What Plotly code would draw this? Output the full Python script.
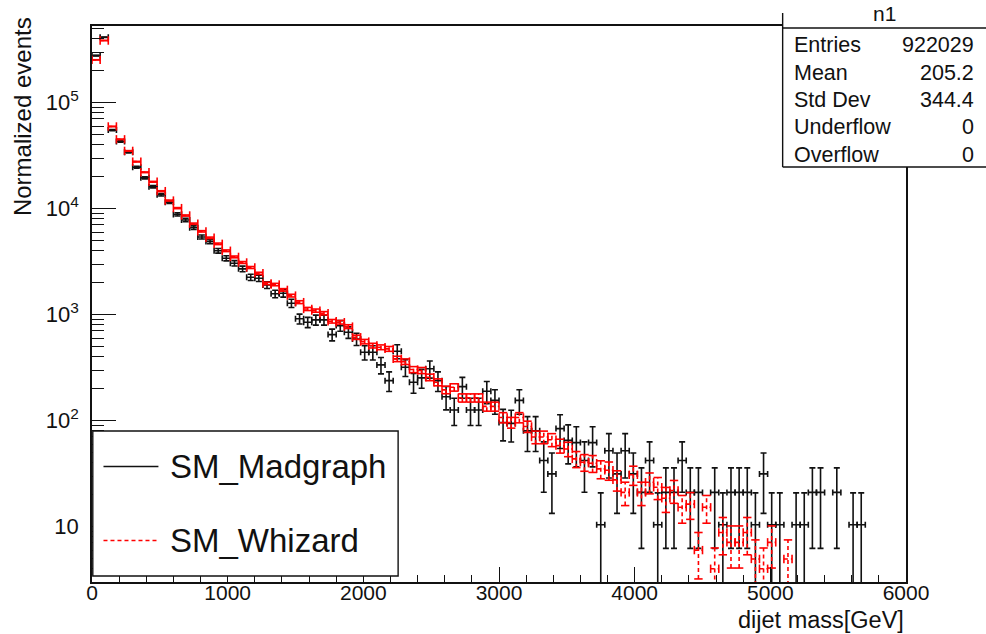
import math
import plotly.graph_objects as go

# ---------------- data ----------------
n_bins = 100
x_min, x_max = 0.0, 6000.0

madgraph = [
    277000, 413000, 55000, 43000, 34000, 24500, 19500, 16100, 13500, 11500,
    8800, 7800, 6600, 5400, 4900, 4000, 3400, 3050, 2700, 2250,
    2200, 1900, 1570, 1590, 1280, 912, 847, 892, 892, 647,
    787, 681, 589, 441, 441, 335, 238, 451, 318, 230,
    253, 308, 238, 168, 126, 209, 126, 126, 189, 155,
    96, 94, 155, 80, 80, 42, 31.4, 84, 65, 62,
    42, 62, 10.4, 52, 31.4, 52, 31.4, 21, 42, 10.4,
    21, 21, 42, 21, 21, 0, 21, 10.4, 21, 21,
    21, 10.4, 31.4, 10.4, 10.4, 0, 10.4, 10.4, 21, 21,
    0, 21, 0, 10.4, 10.4, 0, 0, 0, 0, 0,
]

whizard = [
    253000, 385000, 59500, 45000, 35000, 27700, 22000, 17900, 14600, 11900,
    10100, 8600, 7200, 6100, 5300, 4650, 4000, 3500, 3100, 2780,
    2450, 1970, 1920, 1710, 1510, 1310, 1130, 1090, 1030, 865,
    847, 770, 611, 556, 510, 492, 475, 382, 360, 303,
    297, 256, 230, 195, 206, 164, 164, 164, 136, 136,
    107, 96, 107, 88, 70, 70, 66, 58, 54, 43.5,
    40.5, 39.6, 35, 34, 27.6, 21, 30.8, 21, 26.2, 23.5,
    18.5, 21.9, 15.2, 16.3, 6.0, 15.2, 4.0, 8.8, 7.1, 7.1,
    8.8, 4.95, 4.0, 7.1, 0, 4.95, 0, 0, 0, 0,
    0, 0, 0, 0, 0, 0, 0, 0, 0, 0,
]

madgraph_weight = 10.4   # event weight (error = sqrt(N) * w)
whizard_weight = 1.3

stats_labels = ["Entries", "Mean", "Std Dev", "Underflow", "Overflow"]
stats_values = ["922029", "205.2", "344.4", "0", "0"]
hist_name = "n1"
legend_labels = ["SM_Madgraph", "SM_Whizard"]
x_ticks = [0, 1000, 2000, 3000, 4000, 5000, 6000]
y_ticks = [10, 100, 1000, 10000, 100000]
y_tick_text = ["10", "10<sup>2</sup>", "10<sup>3</sup>", "10<sup>4</sup>", "10<sup>5</sup>"]

# ---------------- derived ----------------
bw = (x_max - x_min) / n_bins
centers = [x_min + bw * (i + 0.5) for i in range(n_bins)]

FONT = "Liberation Sans, Arial, Helvetica, sans-serif"
BLACK = "#111111"
RED = "#ff0000"
LW = 1.6

fig = go.Figure()

# Madgraph: native error bars
mx, my, me_p, me_m = [], [], [], []
for c, v in zip(centers, madgraph):
    if v > 0:
        e = math.sqrt(v * madgraph_weight)
        mx.append(c)
        my.append(v)
        me_p.append(e)
        me_m.append(min(e, v * 0.99999))
fig.add_trace(go.Scatter(
    x=mx, y=my, mode="markers",
    marker=dict(size=1, color="rgba(0,0,0,0)"),
    error_y=dict(type="data", array=me_p, arrayminus=me_m, symmetric=False,
                 color=BLACK, thickness=LW, width=3),
    error_x=dict(type="constant", value=bw / 2, color=BLACK, thickness=LW, width=3),
    showlegend=False, hoverinfo="skip", cliponaxis=True,
))

# Whizard: dashed error bars drawn as line paths
vx, vy, hx, hy = [], [], [], []
cvx, cvy, chx, chy = [], [], [], []
for c, v in zip(centers, whizard):
    if v > 0:
        e = math.sqrt(v * whizard_weight)
        lo = v - e if v - e > 0 else 1e-3
        vx += [c, c, None]
        vy += [lo, v + e, None]
        hx += [c - bw / 2, c + bw / 2, None]
        hy += [v, v, None]
        cvx += [c]
        cvy += [v + e]
        if v - e > 0:
            cvx += [c]
            cvy += [v - e]
        chx += [c - bw / 2, c + bw / 2]
        chy += [v, v]

dash = "4px,3px"
fig.add_trace(go.Scatter(x=vx, y=vy, mode="lines",
                         line=dict(color=RED, width=LW, dash=dash),
                         showlegend=False, hoverinfo="skip"))
fig.add_trace(go.Scatter(x=hx, y=hy, mode="lines",
                         line=dict(color=RED, width=LW, dash=dash),
                         showlegend=False, hoverinfo="skip"))
fig.add_trace(go.Scatter(x=cvx, y=cvy, mode="markers",
                         marker=dict(symbol="line-ew", size=6,
                                     line=dict(color=RED, width=LW)),
                         showlegend=False, hoverinfo="skip"))
fig.add_trace(go.Scatter(x=chx, y=chy, mode="markers",
                         marker=dict(symbol="line-ns", size=6,
                                     line=dict(color=RED, width=LW)),
                         showlegend=False, hoverinfo="skip"))

# ---------------- layout geometry (pixels) ----------------
W, H = 986, 634
L, R, T, B = 91.5, 906.5, 26.0, 582.0
pw, ph = R - L, B - T


def px(xp):
    return (xp - L) / pw


def py(yp):
    return (B - yp) / ph


y_lo = math.log10(3.0)
y_hi = y_lo + ph / 106.0

minor_y = []
for k in range(0, 6):
    for m in range(2, 10):
        minor_y.append(m * 10 ** k)

fig.update_layout(
    width=W, height=H,
    margin=dict(l=L, r=W - R, t=T, b=H - B, pad=0),
    plot_bgcolor="white", paper_bgcolor="white",
    font=dict(family=FONT, color=BLACK),
    showlegend=False,
    xaxis=dict(
        range=[x_min, x_max], showgrid=False, zeroline=False,
        showline=True, linecolor=BLACK, linewidth=1.6, mirror=True,
        ticks="inside", ticklen=15, tickwidth=1.2, tickcolor=BLACK,
        tickmode="array", tickvals=x_ticks,
        ticktext=[str(t) for t in x_ticks],
        ticklabelstandoff=-9,
        tickfont=dict(size=21, family=FONT, color=BLACK),
        minor=dict(ticks="inside", ticklen=7, tickwidth=1.2, tickcolor=BLACK,
                   dtick=200, showgrid=False),
    ),
    yaxis=dict(
        type="log", range=[y_lo, y_hi], showgrid=False, zeroline=False,
        showline=True, linecolor=BLACK, linewidth=1.6, mirror=True,
        ticks="inside", ticklen=24, tickwidth=1.2, tickcolor=BLACK,
        tickmode="array", tickvals=y_ticks, ticktext=y_tick_text,
        ticklabelstandoff=7,
        tickfont=dict(size=22, family=FONT, color=BLACK),
        minor=dict(ticks="inside", ticklen=12, tickwidth=1.2, tickcolor=BLACK,
                   tickmode="array", tickvals=minor_y, showgrid=False),
    ),
)

shapes = []
annotations = []

# axis titles
annotations.append(dict(text="dijet mass[GeV]", xref="paper", yref="paper",
                        x=1.0, y=py(620), xanchor="right", yanchor="middle",
                        showarrow=False, font=dict(size=23.5, family=FONT, color=BLACK)))
annotations.append(dict(text="Normalized events", xref="paper", yref="paper",
                        x=px(22), y=py(15), xanchor="center", yanchor="top",
                        textangle=-90, showarrow=False,
                        font=dict(size=24, family=FONT, color=BLACK)))

# stats box
sx0, sx1, sy0, sy1, sline = 783, 990, 13, 167, 28
shapes.append(dict(type="rect", xref="paper", yref="paper",
                   x0=px(sx0), x1=px(sx1), y0=py(sy1), y1=py(sy0),
                   fillcolor="white", line=dict(width=0), layer="above"))
for (x0, y0, x1, y1) in [(sx0, sy0, sx0, sy1), (sx0, sline, sx1, sline), (sx0, sy1, sx1, sy1)]:
    shapes.append(dict(type="line", xref="paper", yref="paper",
                       x0=px(x0), x1=px(x1), y0=py(y0), y1=py(y1),
                       line=dict(color=BLACK, width=1.4), layer="above"))
annotations.append(dict(text=hist_name, xref="paper", yref="paper",
                        x=px(885), y=py(14), xanchor="center", yanchor="middle",
                        showarrow=False, font=dict(size=21, family=FONT, color=BLACK)))
row_y = [45, 72.5, 100, 127.5, 155]
for lab, val, yy in zip(stats_labels, stats_values, row_y):
    annotations.append(dict(text=lab, xref="paper", yref="paper",
                            x=px(792), y=py(yy), xanchor="left", yanchor="middle",
                            showarrow=False, font=dict(size=21.5, family=FONT, color=BLACK)))
    annotations.append(dict(text=val, xref="paper", yref="paper",
                            x=px(977), y=py(yy), xanchor="right", yanchor="middle",
                            showarrow=False, font=dict(size=21.5, family=FONT, color=BLACK)))

# legend box
lx0, lx1, ly0, ly1 = 92.3, 398, 431, 576
shapes.append(dict(type="rect", xref="paper", yref="paper",
                   x0=px(lx0), x1=px(lx1), y0=py(ly1), y1=py(ly0),
                   fillcolor="white", line=dict(color=BLACK, width=1.4), layer="above"))
leg_y = [466.5, 540.5]
leg_styles = [dict(color=BLACK, width=1.4), dict(color=RED, width=1.4, dash="4px,3px")]
for lab, yy, st in zip(legend_labels, leg_y, leg_styles):
    shapes.append(dict(type="line", xref="paper", yref="paper",
                       x0=px(103), x1=px(158), y0=py(yy), y1=py(yy),
                       line=st, layer="above"))
    annotations.append(dict(text=lab, xref="paper", yref="paper",
                            x=px(168), y=py(yy), xanchor="left", yanchor="middle",
                            showarrow=False, font=dict(size=33, family=FONT, color=BLACK)))

fig.update_layout(shapes=shapes, annotations=annotations)
fig.write_html("out.html")
